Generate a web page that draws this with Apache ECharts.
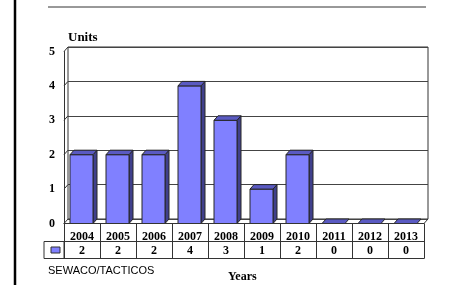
<!DOCTYPE html>
<html><head><meta charset="utf-8">
<script src="https://cdn.jsdelivr.net/npm/echarts@6/dist/echarts.min.js"></script>
<style>html,body{margin:0;padding:0;background:#fff}#c{width:454px;height:285px}</style>
</head><body><div id="c"></div>
<script>
const categories = ['2004','2005','2006','2007','2008','2009','2010','2011','2012','2013'];
const values = [2, 2, 2, 4, 3, 1, 2, 0, 0, 0];
const yTicks = [0, 1, 2, 3, 4, 5];
const seriesName = 'SEWACO/TACTICOS';
const yName = 'Units';
const xName = 'Years';

const SERIF = '"Liberation Serif", "Times New Roman", serif';
const DX = 4, DY = 4.5;
const FRONT = '#8080ff', SIDE = '#40408c', TOP = '#5a5ac2', EDGE = '#262626';

const chart = echarts.init(document.getElementById('c'), null, {renderer: 'canvas'});
const lbl = {fontFamily: SERIF, fontWeight: 'bold', fontSize: 12, color: '#000'};

chart.setOption({
  animation: false,
  backgroundColor: '#fff',
  grid: [
    {left: 64, top: 51.5, width: 360, height: 172, show: false},
    {left: 64 + DX, top: 51.5 - DY, width: 360, height: 172, show: true, borderColor: '#333', borderWidth: 1, backgroundColor: '#fff', z: 0}
  ],
  xAxis: [
    {gridIndex: 0, type: 'category', data: categories, position: 'bottom',
     axisLine: {show: true, lineStyle: {color: '#333', width: 1}},
     axisTick: {show: true, length: 35, lineStyle: {color: '#333', width: 1}},
     axisLabel: Object.assign({margin: 7, interval: 0}, lbl), z: 5},
    {gridIndex: 1, type: 'category', data: categories, show: false},
    {gridIndex: 0, type: 'category', data: values.map(String), position: 'bottom', offset: 18,
     axisLine: {show: true, lineStyle: {color: '#333', width: 1}},
     axisTick: {show: false},
     axisLabel: Object.assign({margin: 3, interval: 0}, lbl), z: 5},
    {gridIndex: 0, type: 'category', data: categories, position: 'bottom', offset: 35,
     axisLine: {show: true, lineStyle: {color: '#333', width: 1}},
     axisTick: {show: false}, axisLabel: {show: false}, z: 5}
  ],
  yAxis: [
    {gridIndex: 0, type: 'value', min: 0, max: 5, interval: 1,
     axisLine: {show: true, lineStyle: {color: '#333', width: 1}},
     axisTick: {show: false}, splitLine: {show: false},
     axisLabel: Object.assign({margin: 9}, lbl), z: 5},
    {gridIndex: 1, type: 'value', min: 0, max: 5, interval: 1,
     axisLine: {show: false}, axisTick: {show: false}, axisLabel: {show: false},
     splitLine: {show: true, lineStyle: {color: '#444', width: 1}}}
  ],
  title: {text: yName, left: 63, top: 26, textStyle: {fontFamily: SERIF, fontWeight: 'bold', fontSize: 13, color: '#000'}},
  graphic: [
    {type: 'line', shape: {x1: 15, y1: 0, x2: 15, y2: 285}, style: {stroke: '#000', lineWidth: 2.5}},
    {type: 'line', shape: {x1: 48, y1: 7, x2: 426, y2: 7}, style: {stroke: '#333', lineWidth: 1}},
    {type: 'rect', shape: {x: 44, y: 241.5, width: 20, height: 17}, style: {fill: 'none', stroke: '#333', lineWidth: 1}, z: 10},
    {type: 'rect', shape: {x: 51, y: 247, width: 9, height: 6}, style: {fill: FRONT, stroke: '#333', lineWidth: 1}, z: 10},
    {type: 'text', left: 48, top: 265, style: {text: seriesName, fontFamily: '"Liberation Sans", Arial, sans-serif', fontSize: 11, fill: '#000'}},
    {type: 'text', left: 228, top: 271, style: {text: xName, fontFamily: SERIF, fontWeight: 'bold', fontSize: 12, fill: '#000'}}
  ],
  series: [
    {
      type: 'custom', name: 'frame', xAxisIndex: 0, yAxisIndex: 0, z: 3,
      data: yTicks.map(v => [0, v]),
      renderItem(params, api) {
        const v = api.value(1);
        const p = api.coord([0, v]);
        const cw = api.size([1, 0])[0];
        const xl = p[0] - cw / 2;
        const children = [{type: 'line', shape: {x1: xl, y1: p[1], x2: xl + DX, y2: p[1] - DY}, style: {stroke: '#333', lineWidth: 1}}];
        if (v === 0) {
          const pr = api.coord([categories.length - 1, 0]);
          const xr = pr[0] + cw / 2;
          children.push({type: 'line', shape: {x1: xr, y1: pr[1], x2: xr + DX, y2: pr[1] - DY}, style: {stroke: '#333', lineWidth: 1}});
        }
        return {type: 'group', children};
      }
    },
    {
      type: 'custom', name: seriesName, xAxisIndex: 0, yAxisIndex: 0, z: 4,
      data: values.map((v, i) => [i, v]),
      renderItem(params, api) {
        const i = api.value(0), v = api.value(1);
        const b = api.coord([i, 0]);
        const t = api.coord([i, v]);
        const cw = api.size([1, 0])[0];
        const w = cw * 23 / 36;
        const x0 = b[0] - 0.5 - w / 2, x1 = x0 + w;
        const ty = t[1], by = b[1];
        const st = {stroke: EDGE, lineWidth: 1};
        const children = [];
        if (v > 0) {
          children.push({type: 'polygon', shape: {points: [[x1, by], [x1 + DX, by - DY], [x1 + DX, ty - DY], [x1, ty]]}, style: Object.assign({fill: SIDE}, st)});
          children.push({type: 'rect', shape: {x: x0, y: ty, width: w, height: by - ty}, style: Object.assign({fill: FRONT}, st)});
        }
        children.push({type: 'polygon', shape: {points: [[x0, ty], [x0 + DX, ty - DY], [x1 + DX, ty - DY], [x1, ty]]}, style: Object.assign({fill: TOP}, st)});
        return {type: 'group', children};
      }
    }
  ]
});
</script></body></html>
